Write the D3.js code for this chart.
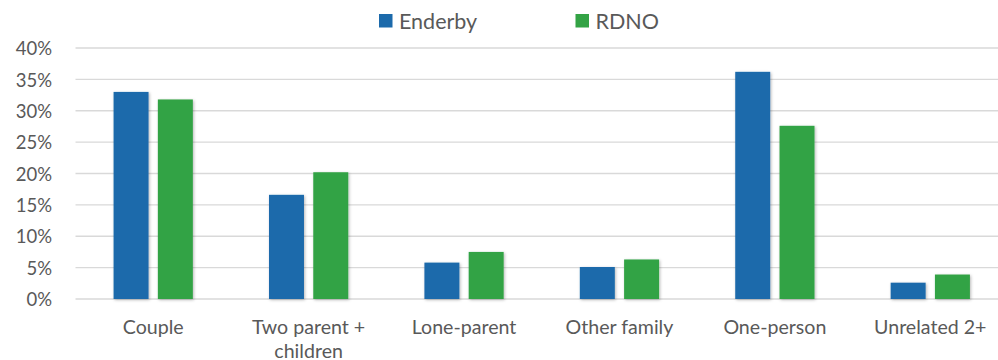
<!DOCTYPE html>
<html>
<head>
<meta charset="utf-8">
<script src="https://cdn.jsdelivr.net/npm/d3@7"></script>
<style>
  html, body { margin: 0; padding: 0; background: #fff; }
  svg { display: block; }
  text { font-family: Lato, "Open Sans", sans-serif; fill: #595959; }
</style>
</head>
<body>
<svg id="chart" width="998" height="360"></svg>
<script>
// Household types, share of households
const categories = ["Couple", "Two parent + children", "Lone-parent", "Other family", "One-person", "Unrelated 2+"];
const categoryLines = [["Couple"], ["Two parent +", "children"], ["Lone-parent"], ["Other family"], ["One-person"], ["Unrelated 2+"]];
const seriesNames = ["Enderby", "RDNO"];
const enderby = [33.0, 16.6, 5.8, 5.1, 36.2, 2.6];
const rdno = [31.8, 20.2, 7.5, 6.3, 27.6, 3.9];
const colors = ["#1c6aab", "#33a345"];
const yTicks = [0, 5, 10, 15, 20, 25, 30, 35, 40];

const seriesValues = [enderby, rdno];
const rows = categories.map((c, i) => ({
  category: c,
  lines: categoryLines[i],
  values: seriesNames.map((s, j) => ({ series: s, value: seriesValues[j][i] }))
}));

const svg = d3.select("#chart");

// Shadow under bars
const defs = svg.append("defs");
const f = defs.append("filter").attr("id", "barShadow")
  .attr("x", "-30%").attr("y", "-10%").attr("width", "160%").attr("height", "130%");
f.append("feDropShadow").attr("dx", 1).attr("dy", 1).attr("stdDeviation", 1.8)
  .attr("flood-color", "#000").attr("flood-opacity", 0.28);

const plot = { left: 75.5, right: 1008, top: 48, bottom: 299 };

const x0 = d3.scaleBand().domain(categories).range([plot.left, plot.right])
  .paddingInner(0.49).paddingOuter(0.245);
const x1 = d3.scaleBand().domain(seriesNames).range([0, x0.bandwidth()])
  .paddingInner(0.21).paddingOuter(0);
const y = d3.scaleLinear().domain([0, 40]).range([plot.bottom, plot.top]);

// Gridlines
svg.append("g").selectAll("line").data(yTicks).join("line")
  .attr("x1", plot.left).attr("x2", plot.right)
  .attr("y1", d => y(d)).attr("y2", d => y(d))
  .attr("stroke", "#d9d9d9").attr("stroke-width", 1.3);

// Y axis labels
const yAxis = d3.axisLeft(y).tickValues(yTicks).tickFormat(d => d + "%").tickSize(0).tickPadding(0);
const yg = svg.append("g").attr("transform", `translate(52,0)`).call(yAxis);
yg.select(".domain").remove();
yg.selectAll("text").attr("font-size", 18.5).attr("fill", "#595959")
  .style("font-family", "Lato, 'Open Sans', sans-serif").attr("dy", "0.36em");

// Bars
const groups = svg.append("g").selectAll("g").data(rows).join("g")
  .attr("transform", d => `translate(${x0(d.category)},0)`);
groups.selectAll("rect").data(d => d.values).join("rect")
  .attr("x", d => x1(d.series))
  .attr("width", x1.bandwidth())
  .attr("y", d => y(d.value))
  .attr("height", d => y(0) - y(d.value))
  .attr("fill", (d, i) => colors[i])
  .attr("filter", "url(#barShadow)");

// Category labels
const labels = svg.append("g").selectAll("text").data(rows).join("text")
  .attr("text-anchor", "middle")
  .attr("font-size", 19.6)
  .attr("x", d => x0(d.category) + x0.bandwidth() / 2)
  .attr("y", 334);
labels.selectAll("tspan").data(d => d.lines).join("tspan")
  .attr("x", function () { return d3.select(this.parentNode).attr("x"); })
  .attr("dy", (d, i) => i === 0 ? 0 : 23.5)
  .text(d => d);

// Legend
const legendX = [379, 575.5];
const legend = svg.append("g").selectAll("g").data(seriesNames).join("g")
  .attr("transform", (d, i) => `translate(${legendX[i]},0)`);
legend.append("rect").attr("x", 0).attr("y", 14).attr("width", 13.5).attr("height", 13.5)
  .attr("fill", (d, i) => colors[i]);
legend.append("text").attr("x", 20).attr("y", 28.5).attr("font-size", 21.5).text(d => d);
</script>
</body>
</html>
